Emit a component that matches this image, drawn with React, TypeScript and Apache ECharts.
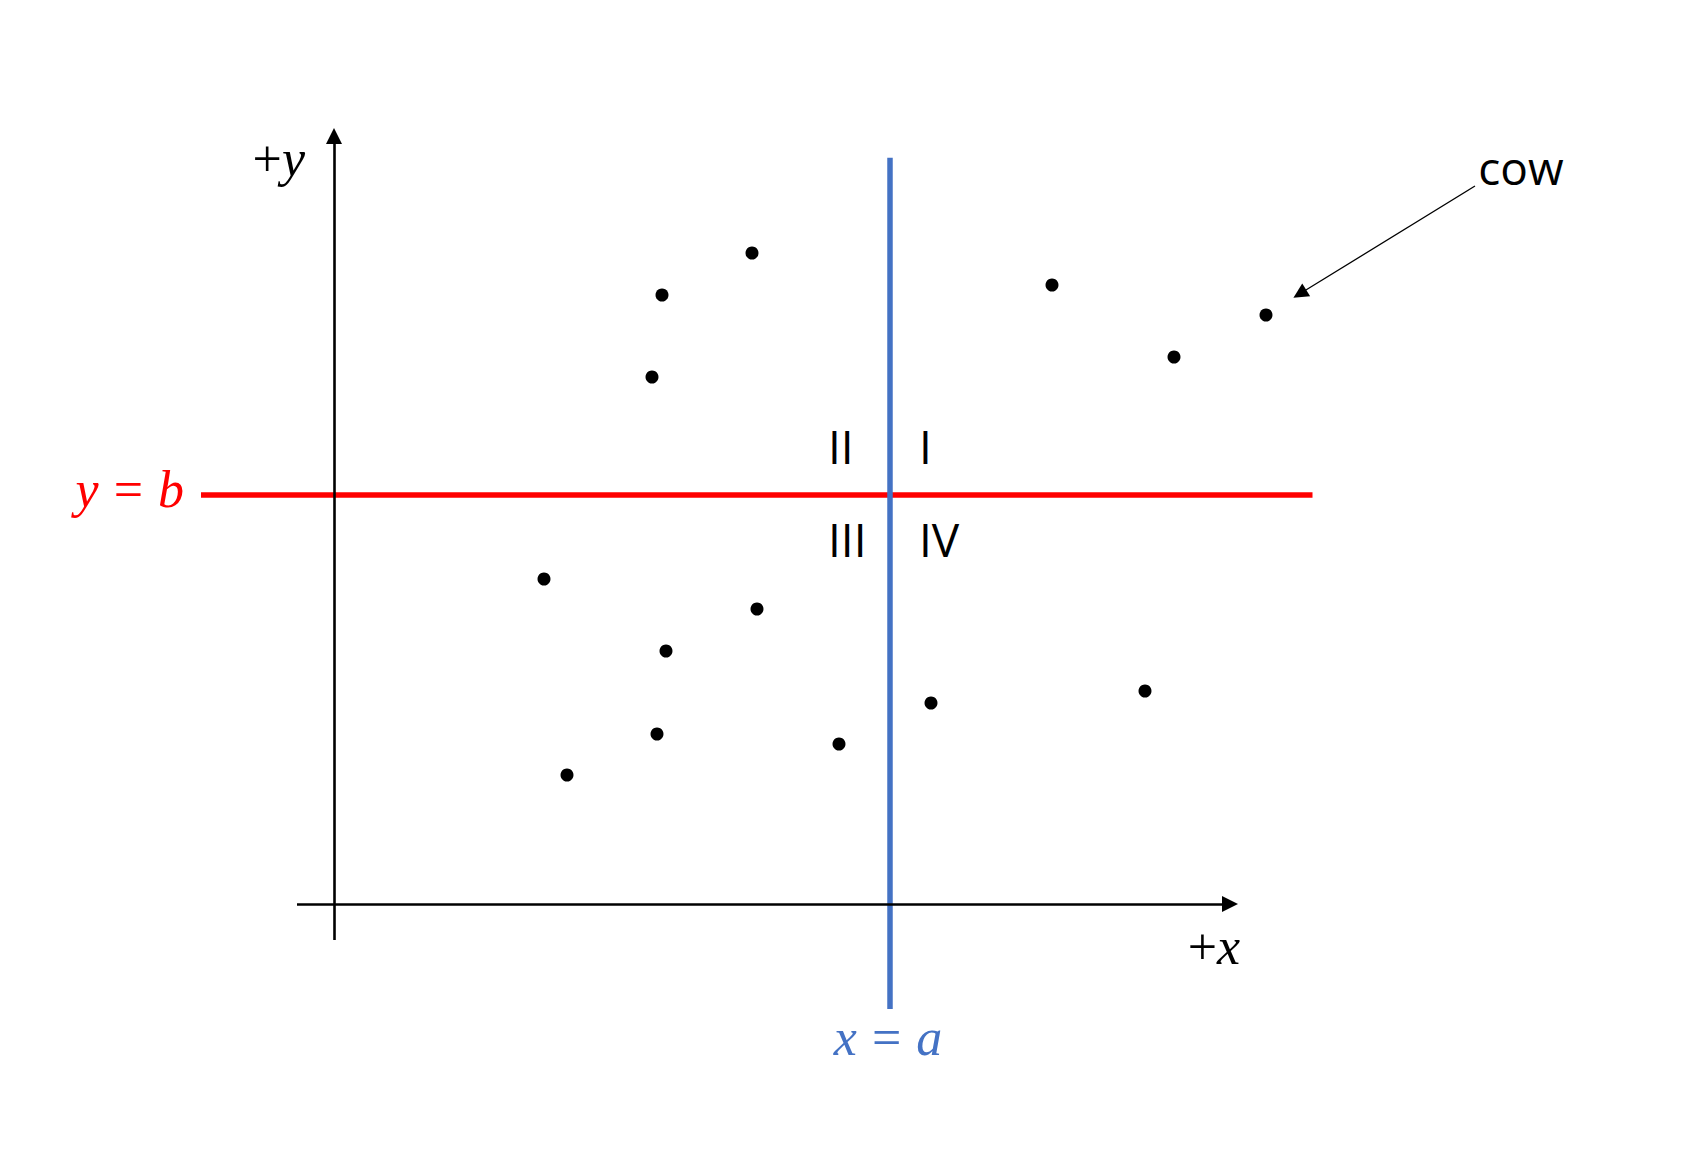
import React, { useEffect, useRef } from "react";
import * as echarts from "echarts";

// Data units: origin of the drawn axes at (0,0); one unit = 100 px.
const pointX = [4.18, 3.28, 3.18, 7.18, 9.32, 8.4, 2.1, 4.23, 3.32, 3.23, 5.05, 2.33, 5.97, 8.11];
const pointY = [6.51, 6.09, 5.27, 6.19, 5.89, 5.47, 3.25, 2.95, 2.53, 1.7, 1.6, 1.29, 2.01, 2.13];

const lineA = 5.553; // x = a
const lineB = 4.09; // y = b
const lineBSpan = [-1.33, 9.785];
const lineASpan = [-1.05, 7.463];

const xAxisSpan = [-0.37, 8.96];
const yAxisSpan = [-0.36, 7.68];

const cowArrowFrom = [11.41, 7.18];
const cowArrowTo = [9.658, 6.102];

const quadrantLabels = ["I", "II", "III", "IV"];

const X_MIN = -3.34;
const X_MAX = 13.71;
const Y_MIN = -2.47;
const Y_MAX = 9.04;

const SERIF = '"Liberation Serif", "Times New Roman", serif';
const SANS = '"Open Sans", "Noto Sans", sans-serif';
const RED = "#FF0000";
const BLUE = "#4472C4";
const MATH_SIZE = 52;

function mathRich(color: string, size: number) {
  return {
    n: { fontFamily: SERIF, fontSize: size, fill: color, fontStyle: "normal" },
    e: { fontFamily: SERIF, fontSize: size, fill: color, fontStyle: "normal", padding: [0, 15] },
    i: { fontFamily: SERIF, fontSize: size, fill: color, fontStyle: "italic" },
  };
}

export default function App() {
  const ref = useRef<HTMLDivElement>(null);

  useEffect(() => {
    if (!ref.current) return;
    const chart = echarts.init(ref.current, null, { renderer: "svg" });

    const solid = (color: string, width: number) => ({ color, width, type: "solid" as const });

    const option: any = {
      animation: false,
      backgroundColor: "#ffffff",
      grid: { left: 0, right: 0, top: 0, bottom: 0, containLabel: false },
      xAxis: { type: "value", min: X_MIN, max: X_MAX, show: false },
      yAxis: { type: "value", min: Y_MIN, max: Y_MAX, show: false },
      series: [
        {
          type: "line",
          data: [],
          silent: true,
          markLine: {
            silent: true,
            animation: false,
            symbol: ["none", "none"],
            label: { show: false },
            lineStyle: solid(RED, 5.5),
            emphasis: { disabled: true },
            data: [[{ coord: [lineBSpan[0], lineB] }, { coord: [lineBSpan[1], lineB] }]],
          },
        },
        {
          type: "line",
          data: [],
          silent: true,
          markLine: {
            silent: true,
            animation: false,
            symbol: ["none", "none"],
            label: { show: false },
            lineStyle: solid(BLUE, 5.5),
            emphasis: { disabled: true },
            data: [[{ coord: [lineA, lineASpan[0]] }, { coord: [lineA, lineASpan[1]] }]],
          },
        },
        {
          type: "line",
          data: [],
          silent: true,
          markLine: {
            silent: true,
            animation: false,
            symbol: ["none", "triangle"],
            symbolSize: 16,
            label: { show: false },
            lineStyle: solid("#000000", 2.6),
            itemStyle: { color: "#000000" },
            emphasis: { disabled: true },
            data: [
              [{ coord: [xAxisSpan[0], 0] }, { coord: [xAxisSpan[1], 0] }],
              [{ coord: [0, yAxisSpan[0]] }, { coord: [0, yAxisSpan[1]] }],
            ],
          },
        },
        {
          type: "line",
          data: [],
          silent: true,
          markLine: {
            silent: true,
            animation: false,
            symbol: ["none", "triangle"],
            symbolSize: 15,
            label: { show: false },
            lineStyle: solid("#000000", 1.3),
            itemStyle: { color: "#000000" },
            emphasis: { disabled: true },
            data: [[{ coord: cowArrowFrom }, { coord: cowArrowTo }]],
          },
        },
        {
          type: "scatter",
          silent: true,
          symbol: "circle",
          symbolSize: 13,
          itemStyle: { color: "#000000", opacity: 1 },
          data: pointX.map((x, i) => [x, pointY[i]]),
        },
      ],
      graphic: [
        {
          type: "text",
          x: 305,
          y: 158,
          style: { text: "{n|+}{i|y}", rich: mathRich("#000", MATH_SIZE), align: "right", verticalAlign: "middle" },
        },
        {
          type: "text",
          x: 1214,
          y: 946,
          style: { text: "{n|+}{i|x}", rich: mathRich("#000", MATH_SIZE), align: "center", verticalAlign: "middle" },
        },
        {
          type: "text",
          x: 184,
          y: 489,
          style: { text: "{i|y}{e|=}{i|b}", rich: mathRich(RED, MATH_SIZE), align: "right", verticalAlign: "middle" },
        },
        {
          type: "text",
          x: 888,
          y: 1037,
          style: { text: "{i|x}{e|=}{i|a}", rich: mathRich(BLUE, MATH_SIZE), align: "center", verticalAlign: "middle" },
        },
        {
          type: "text",
          x: 919,
          y: 446,
          style: { text: quadrantLabels[0], fontFamily: SANS, fontSize: 46, fill: "#000", align: "left", verticalAlign: "middle" },
        },
        {
          type: "text",
          x: 828,
          y: 446,
          style: { text: quadrantLabels[1], fontFamily: SANS, fontSize: 46, fill: "#000", align: "left", verticalAlign: "middle" },
        },
        {
          type: "text",
          x: 828,
          y: 539,
          style: { text: quadrantLabels[2], fontFamily: SANS, fontSize: 46, fill: "#000", align: "left", verticalAlign: "middle" },
        },
        {
          type: "text",
          x: 919,
          y: 539,
          style: { text: quadrantLabels[3], fontFamily: SANS, fontSize: 46, fill: "#000", align: "left", verticalAlign: "middle" },
        },
        {
          type: "text",
          x: 1521,
          y: 167,
          style: { text: "cow", fontFamily: SANS, fontSize: 46, fill: "#000", align: "center", verticalAlign: "middle" },
        },
      ],
    };

    chart.setOption(option);
    return () => chart.dispose();
  }, []);

  return (
    <div
      ref={ref}
      style={{ position: "fixed", left: 0, top: 0, width: 1705, height: 1151, background: "#fff" }}
    />
  );
}
